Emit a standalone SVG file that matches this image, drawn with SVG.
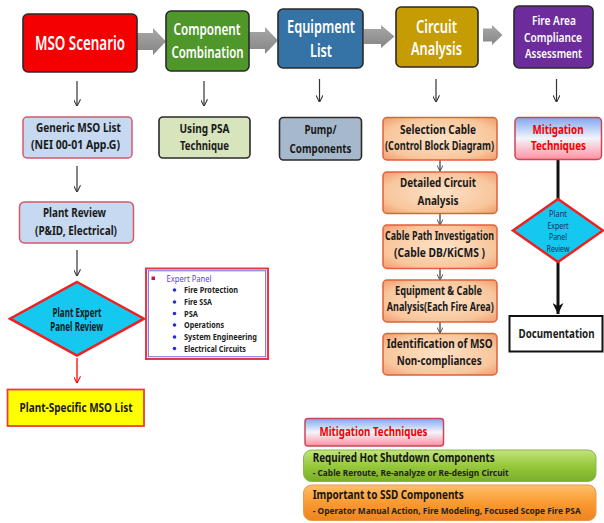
<svg xmlns="http://www.w3.org/2000/svg" width="604" height="523" viewBox="0 0 604 523">
<defs>
<style>
.t{font-family:"Noto Sans","Liberation Sans",sans-serif;text-anchor:middle}
.top{fill:#fff;font-weight:600}
.b{font-weight:700;fill:#1a1a1a}
.box{stroke:#2a2a2a;stroke-width:1.6}
.thin{stroke:#333;stroke-width:1.2;fill:none}
.item{font-family:"Noto Sans","Liberation Sans",sans-serif;font-size:8px;font-weight:700;fill:#222}
</style>
<linearGradient id="gArrow" x1="0" y1="0" x2="0" y2="1"><stop offset="0" stop-color="#a8a8a8"/><stop offset="1" stop-color="#858585"/></linearGradient>
<linearGradient id="gMit" x1="0" y1="0" x2="0" y2="1"><stop offset="0" stop-color="#7fa8f0"/><stop offset="0.5" stop-color="#f4f4fb"/><stop offset="1" stop-color="#ff8fa0"/></linearGradient>
<radialGradient id="gOr" cx="0.5" cy="0.5" r="0.7"><stop offset="0" stop-color="#fde2c6"/><stop offset="0.7" stop-color="#f8c69c"/><stop offset="1" stop-color="#f29a6c"/></radialGradient>
<linearGradient id="gGreen" x1="0" y1="0" x2="0" y2="1"><stop offset="0" stop-color="#c2e47a"/><stop offset="0.5" stop-color="#97c93c"/><stop offset="1" stop-color="#7aae2a"/></linearGradient>
<linearGradient id="gOrange" x1="0" y1="0" x2="0" y2="1"><stop offset="0" stop-color="#ffc06a"/><stop offset="0.5" stop-color="#f99a32"/><stop offset="1" stop-color="#ee8420"/></linearGradient>
<marker id="v" viewBox="0 0 10 10" refX="9.5" refY="5" markerWidth="7" markerHeight="7" markerUnits="userSpaceOnUse" orient="auto"><path d="M0,0 L10,5 L0,10" fill="none" stroke="#333" stroke-width="1.5"/></marker>
<marker id="vs" viewBox="0 0 10 10" refX="9.5" refY="5" markerWidth="6" markerHeight="6" markerUnits="userSpaceOnUse" orient="auto"><path d="M0,0 L10,5 L0,10" fill="none" stroke="#444" stroke-width="1.5"/></marker>
<marker id="vr" viewBox="0 0 10 10" refX="9.5" refY="5" markerWidth="7" markerHeight="7" markerUnits="userSpaceOnUse" orient="auto"><path d="M0,0 L10,5 L0,10" fill="none" stroke="#f00" stroke-width="1.5"/></marker>
<marker id="vt" viewBox="0 0 10 10" refX="10" refY="5" markerWidth="11" markerHeight="11" markerUnits="userSpaceOnUse" orient="auto"><path d="M0,0 L10,5 L0,10 L3,5 Z" fill="#111"/></marker>
</defs>

<g id="connectors">
<polygon points="137,33 153,33 153,28 166,41.5 153,55 153,50 137,50" fill="url(#gArrow)"/>
<polygon points="249,32 265,32 265,27 278,40.5 265,54 265,49 249,49" fill="url(#gArrow)"/>
<polygon points="364,29 381,29 381,25 394.5,36.5 381,48 381,44 364,44" fill="url(#gArrow)"/>
<polygon points="483,28.5 492,28.5 492,25 502.5,35 492,45 492,41.5 483,41.5" fill="url(#gArrow)"/>
<line class="thin" x1="77" y1="81" x2="77" y2="106" marker-end="url(#v)"/>
<line class="thin" x1="204" y1="81" x2="204" y2="106" marker-end="url(#v)"/>
<line class="thin" x1="319.5" y1="79" x2="319.5" y2="102" marker-end="url(#v)"/>
<line class="thin" x1="436" y1="79" x2="436" y2="102" marker-end="url(#v)"/>
<line class="thin" x1="556.5" y1="79" x2="556.5" y2="102" marker-end="url(#v)"/>
<line class="thin" x1="77" y1="166" x2="77" y2="192" marker-end="url(#v)"/>
<line class="thin" x1="77" y1="250" x2="77" y2="276" marker-end="url(#v)"/>
<line x1="77" y1="358" x2="77" y2="383" stroke="#f00" stroke-width="1.3" marker-end="url(#vr)"/>
<line class="thin" x1="440" y1="160" x2="440" y2="171" marker-end="url(#vs)"/>
<line class="thin" x1="440" y1="213.5" x2="440" y2="225" marker-end="url(#vs)"/>
<line class="thin" x1="440" y1="268.5" x2="440" y2="280" marker-end="url(#vs)"/>
<line class="thin" x1="440" y1="322" x2="440" y2="333" marker-end="url(#vs)"/>
<line x1="558" y1="159.5" x2="558" y2="199" stroke="#111" stroke-width="3"/>
<line x1="558" y1="262" x2="558" y2="314" stroke="#111" stroke-width="3" marker-end="url(#vt)"/>
</g>

<g id="mso-scenario">
<rect x="23" y="14" width="114" height="58" rx="5" fill="#f40000" class="box"/>
<text class="t top" x="80" y="50" font-size="20" textLength="90" lengthAdjust="spacingAndGlyphs">MSO Scenario</text>
</g>
<g id="component-combination">
<rect x="166" y="11" width="83" height="60" rx="5" fill="#4f962b" class="box"/>
<text class="t top" x="207" y="35" font-size="16.5" textLength="67" lengthAdjust="spacingAndGlyphs">Component</text>
<text class="t top" x="207.5" y="58" font-size="16.5" textLength="72" lengthAdjust="spacingAndGlyphs">Combination</text>
</g>
<g id="equipment-list">
<rect x="278" y="9" width="85" height="59" rx="5" fill="#3573a6" class="box"/>
<text class="t top" x="321" y="33" font-size="17" textLength="68" lengthAdjust="spacingAndGlyphs">Equipment</text>
<text class="t top" x="321" y="56.5" font-size="17" textLength="22" lengthAdjust="spacingAndGlyphs">List</text>
</g>
<g id="circuit-analysis">
<rect x="396" y="7" width="82" height="60" rx="5" fill="#c69c05" class="box"/>
<text class="t top" x="436.5" y="33" font-size="18" textLength="41" lengthAdjust="spacingAndGlyphs">Circuit</text>
<text class="t top" x="436.5" y="55" font-size="18" textLength="51" lengthAdjust="spacingAndGlyphs">Analysis</text>
</g>
<g id="fire-area">
<rect x="514" y="6" width="79" height="62" rx="5" fill="#6d2c9c" class="box"/>
<text class="t top" x="554" y="25" font-size="13" textLength="44" lengthAdjust="spacingAndGlyphs">Fire Area</text>
<text class="t top" x="553" y="41.5" font-size="13" textLength="58" lengthAdjust="spacingAndGlyphs">Compliance</text>
<text class="t top" x="553.5" y="58" font-size="13" textLength="57" lengthAdjust="spacingAndGlyphs">Assessment</text>
</g>

<g id="generic-mso-list">
<rect x="23" y="117" width="109" height="41" rx="4" fill="#c6d9f0" stroke="#d35a68" stroke-width="1.5"/>
<text class="t b" x="78.5" y="131.5" font-size="12.5" textLength="85" lengthAdjust="spacingAndGlyphs">Generic MSO List</text>
<text class="t b" x="75.5" y="148.5" font-size="12.5" textLength="89" lengthAdjust="spacingAndGlyphs">(NEI 00-01 App.G)</text>
</g>
<g id="using-psa">
<rect x="159" y="117" width="91" height="41" rx="4" fill="#d7e4bc" class="box"/>
<text class="t b" x="204.5" y="133" font-size="12.5" textLength="50" lengthAdjust="spacingAndGlyphs">Using PSA</text>
<text class="t b" x="204.5" y="149.5" font-size="12.5" textLength="49" lengthAdjust="spacingAndGlyphs">Technique</text>
</g>
<g id="pump-components">
<rect x="279.5" y="117.5" width="82" height="42.5" rx="4" fill="#a6b9cc" class="box"/>
<text class="t b" x="320.5" y="133.5" font-size="12.5" textLength="32" lengthAdjust="spacingAndGlyphs">Pump/</text>
<text class="t b" x="320.5" y="153" font-size="12.5" textLength="62" lengthAdjust="spacingAndGlyphs">Components</text>
</g>
<g id="selection-cable">
<rect x="383" y="117.5" width="114" height="42.5" rx="4" fill="url(#gOr)" stroke="#e2603c" stroke-width="1.5"/>
<text class="t b" x="438" y="133.5" font-size="12" textLength="76" lengthAdjust="spacingAndGlyphs">Selection Cable</text>
<text class="t b" x="439.5" y="150" font-size="11.5" textLength="109" lengthAdjust="spacingAndGlyphs">(Control Block Diagram)</text>
</g>
<g id="detailed-circuit">
<rect x="383" y="172" width="114" height="41.5" rx="4" fill="url(#gOr)" stroke="#e2603c" stroke-width="1.5"/>
<text class="t b" x="438" y="187" font-size="12" textLength="76" lengthAdjust="spacingAndGlyphs">Detailed Circuit</text>
<text class="t b" x="438" y="205" font-size="12" textLength="41" lengthAdjust="spacingAndGlyphs">Analysis</text>
</g>
<g id="cable-path">
<rect x="383" y="225" width="114" height="43.5" rx="4" fill="url(#gOr)" stroke="#e2603c" stroke-width="1.5"/>
<text class="t b" x="439.5" y="240" font-size="11.5" textLength="109" lengthAdjust="spacingAndGlyphs">Cable Path Investigation</text>
<text class="t b" x="439.5" y="257" font-size="11.5" textLength="91" lengthAdjust="spacingAndGlyphs">(Cable DB/KiCMS )</text>
</g>
<g id="equipment-cable">
<rect x="383" y="280" width="114" height="42" rx="4" fill="url(#gOr)" stroke="#e2603c" stroke-width="1.5"/>
<text class="t b" x="438.5" y="295" font-size="11.5" textLength="87" lengthAdjust="spacingAndGlyphs">Equipment &amp; Cable</text>
<text class="t b" x="440.3" y="311" font-size="11.5" textLength="107" lengthAdjust="spacingAndGlyphs">Analysis(Each Fire Area)</text>
</g>
<g id="identification">
<rect x="383" y="333.5" width="114" height="41.5" rx="4" fill="url(#gOr)" stroke="#e2603c" stroke-width="1.5"/>
<text class="t b" x="439.7" y="347.5" font-size="12" textLength="106" lengthAdjust="spacingAndGlyphs">Identification of MSO</text>
<text class="t b" x="439.2" y="365" font-size="12" textLength="85" lengthAdjust="spacingAndGlyphs">Non-compliances</text>
</g>

<g id="mitigation-right">
<rect x="515" y="117.5" width="86.5" height="42" rx="4" fill="url(#gMit)" stroke="#c84858" stroke-width="1.5"/>
<text class="t" x="558" y="133.5" font-size="13" font-weight="700" fill="#ee0000" textLength="51" lengthAdjust="spacingAndGlyphs">Mitigation</text>
<text class="t" x="558.5" y="150" font-size="13" font-weight="700" fill="#ee0000" textLength="55" lengthAdjust="spacingAndGlyphs">Techniques</text>
</g>
<g id="expert-review-right">
<polygon points="558,199 603,230.5 558,262 513,230.5" fill="#14c8f0" stroke="#f02020" stroke-width="2.5"/>
<text class="t" x="558" y="216.5" font-size="8" fill="#1a2a5a" textLength="18" lengthAdjust="spacingAndGlyphs">Plant</text>
<text class="t" x="558" y="228.5" font-size="8" fill="#1a2a5a" textLength="21" lengthAdjust="spacingAndGlyphs">Expert</text>
<text class="t" x="558" y="240" font-size="8" fill="#1a2a5a" textLength="18" lengthAdjust="spacingAndGlyphs">Panel</text>
<text class="t" x="558" y="251.5" font-size="8" fill="#1a2a5a" textLength="23" lengthAdjust="spacingAndGlyphs">Review</text>
</g>
<g id="documentation">
<rect x="509.5" y="316" width="93" height="35.5" fill="#fff" stroke="#111" stroke-width="2"/>
<text class="t b" x="556.5" y="338" font-size="11.5" textLength="76" lengthAdjust="spacingAndGlyphs">Documentation</text>
</g>

<g id="plant-review">
<rect x="19.5" y="202" width="114" height="41" rx="5" fill="#c6d9f0" stroke="#d35a68" stroke-width="1.5"/>
<text class="t b" x="74.5" y="217" font-size="12.5" textLength="63" lengthAdjust="spacingAndGlyphs">Plant Review</text>
<text class="t b" x="76" y="234.5" font-size="12.5" textLength="82" lengthAdjust="spacingAndGlyphs">(P&amp;ID, Electrical)</text>
</g>
<g id="expert-review-left">
<polygon points="77,282 144,318.7 77,355.5 10,318.7" fill="#14c8f0" stroke="#f02020" stroke-width="2.5"/>
<text class="t b" x="77" y="316.5" font-size="11.5" textLength="49" lengthAdjust="spacingAndGlyphs">Plant Expert</text>
<text class="t b" x="76.7" y="330.5" font-size="11.5" textLength="53" lengthAdjust="spacingAndGlyphs">Panel Review</text>
</g>
<g id="plant-specific">
<rect x="7.5" y="389.5" width="136.5" height="36.5" fill="#ffff00" stroke="#e84040" stroke-width="1.8"/>
<text class="t b" x="76" y="412" font-size="13" textLength="113" lengthAdjust="spacingAndGlyphs">Plant-Specific MSO List</text>
</g>

<g id="expert-panel">
<rect x="146" y="268.5" width="122" height="90.5" fill="#fff" stroke="#e83848" stroke-width="2"/>
<rect x="148.3" y="270.8" width="117.4" height="86" fill="none" stroke="#5a5ad8" stroke-width="0.9"/>
<rect x="151.5" y="276.5" width="3.5" height="3.5" fill="#c0185a"/>
<text x="166.5" y="281.5" font-family="Noto Sans, Liberation Sans, sans-serif" font-size="8" fill="#5a3cf0" textLength="45" lengthAdjust="spacingAndGlyphs">Expert Panel</text>
<g fill="#2a2ad8">
<circle cx="174.5" cy="290" r="1.8"/><circle cx="174.5" cy="302" r="1.8"/><circle cx="174.5" cy="313.5" r="1.8"/><circle cx="174.5" cy="325" r="1.8"/><circle cx="174.5" cy="337" r="1.8"/><circle cx="174.5" cy="348.5" r="1.8"/>
</g>
<text class="item" x="184" y="293" textLength="54" lengthAdjust="spacingAndGlyphs">Fire Protection</text>
<text class="item" x="184" y="305" textLength="28" lengthAdjust="spacingAndGlyphs">Fire SSA</text>
<text class="item" x="184" y="316.5" textLength="14" lengthAdjust="spacingAndGlyphs">PSA</text>
<text class="item" x="184" y="328" textLength="40" lengthAdjust="spacingAndGlyphs">Operations</text>
<text class="item" x="184" y="340" textLength="73" lengthAdjust="spacingAndGlyphs">System Engineering</text>
<text class="item" x="184" y="351.5" textLength="62" lengthAdjust="spacingAndGlyphs">Electrical Circuits</text>
</g>

<g id="mitigation-legend">
<rect x="305" y="418.5" width="138.5" height="27.5" rx="3" fill="url(#gMit)" stroke="#c84858" stroke-width="1.5"/>
<text class="t" x="373.5" y="436" font-size="13" font-weight="700" fill="#ee0000" textLength="108" lengthAdjust="spacingAndGlyphs">Mitigation Techniques</text>
</g>
<g id="required-hot-shutdown">
<rect x="303.5" y="450" width="292.5" height="31.5" rx="8" fill="url(#gGreen)" stroke="#8ab84a" stroke-width="1"/>
<text x="312.7" y="462" font-family="Noto Sans, Liberation Sans, sans-serif" font-size="12.5" font-weight="700" fill="#151515" textLength="182" lengthAdjust="spacingAndGlyphs">Required Hot Shutdown Components</text>
<text x="312.7" y="476" font-family="Noto Sans, Liberation Sans, sans-serif" font-size="9.5" font-weight="700" fill="#222" textLength="196" lengthAdjust="spacingAndGlyphs">- Cable Reroute, Re-analyze or Re-design Circuit</text>
</g>
<g id="important-ssd">
<rect x="303.5" y="485" width="292.5" height="35.5" rx="8" fill="url(#gOrange)" stroke="#e89850" stroke-width="1"/>
<text x="312.7" y="498.5" font-family="Noto Sans, Liberation Sans, sans-serif" font-size="12.5" font-weight="700" fill="#151515" textLength="151" lengthAdjust="spacingAndGlyphs">Important to SSD Components</text>
<text x="312.7" y="513.5" font-family="Noto Sans, Liberation Sans, sans-serif" font-size="9" font-weight="700" fill="#222" textLength="268" lengthAdjust="spacingAndGlyphs">- Operator Manual Action, Fire Modeling, Focused Scope Fire PSA</text>
</g>
</svg>
